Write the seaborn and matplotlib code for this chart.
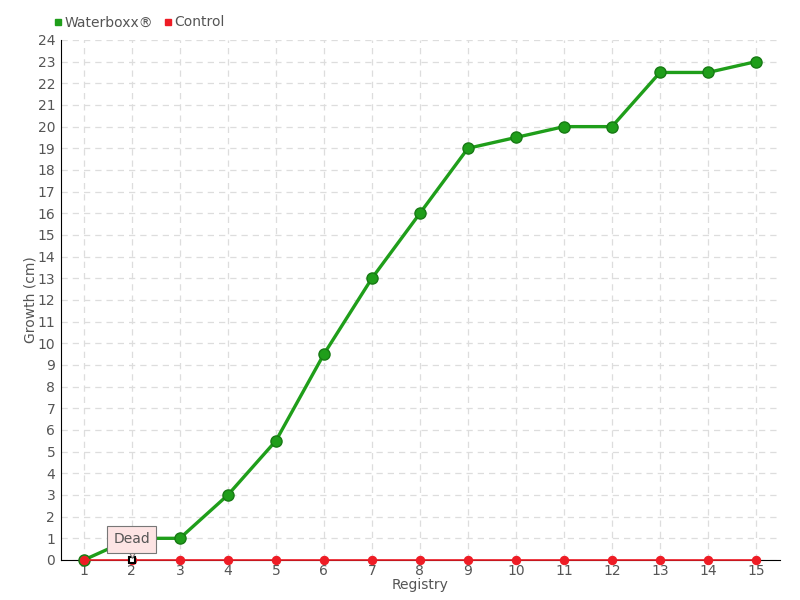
import matplotlib.pyplot as plt
import matplotlib.lines as mlines
import matplotlib.transforms as transforms
import seaborn as sns
import pandas as pd

registry = list(range(1, 16))
waterboxx = [0, 1, 1, 3, 5.5, 9.5, 13, 16, 19, 19.5, 20, 20, 22.5, 22.5, 23]
control = [0] * 15
dead_at = 2

green = "#1f9e1a"
red = "#ee1c25"
text_col = "#555555"

df = pd.DataFrame({"Registry": registry, "Waterboxx®": waterboxx, "Control": control})

sns.set_style("white")
plt.rcParams["font.family"] = ["DejaVu Sans"]

fig = plt.figure(figsize=(8, 6), dpi=100)
ax = fig.add_axes([0.076, 0.0667, 0.899, 0.8667])

sns.lineplot(data=df, x="Registry", y="Waterboxx®", color=green, linewidth=2.4,
             marker="o", markersize=8, markerfacecolor=green,
             markeredgecolor="#177a14", markeredgewidth=1, ax=ax, zorder=4, clip_on=False)
sns.lineplot(data=df, x="Registry", y="Control", color=red, linewidth=1.2,
             marker="o", markersize=6, markerfacecolor=red,
             markeredgecolor=red, ax=ax, zorder=5, clip_on=False)

# dead marker + callout
ax.plot([dead_at], [0], marker="s", markersize=5, markerfacecolor="white",
        markeredgecolor="black", markeredgewidth=1.5, zorder=6, clip_on=False)
pointer = transforms.offset_copy(ax.transData, fig=fig, y=8, units="dots")
ax.plot([dead_at], [0], marker="v", markersize=9, markerfacecolor="#fde4e4",
        markeredgecolor="#777777", markeredgewidth=0.8, zorder=7, clip_on=False,
        transform=pointer)
ax.annotate("Dead", xy=(dead_at, 0.95), ha="center", va="center",
            fontsize=10, color=text_col, zorder=8,
            bbox=dict(boxstyle="square,pad=0.45", facecolor="#fde4e4", edgecolor="#777777", linewidth=0.8))

ax.set_xlim(0.52, 15.5)
ax.set_ylim(0, 24)
ax.set_xticks(registry)
ax.set_yticks(range(0, 25))
ax.grid(True, color="#dddddd", linestyle=(0, (5, 4)), linewidth=0.9)
ax.set_axisbelow(True)
for s in ["top", "right"]:
    ax.spines[s].set_visible(False)
ax.spines["left"].set_color("black")
ax.spines["bottom"].set_color("black")
ax.tick_params(axis="both", colors=text_col, labelsize=10, length=4, direction="inout", width=1)
ax.tick_params(axis="x", pad=1)
ax.tick_params(axis="y", pad=2)
for t in ax.get_xticklines() + ax.get_yticklines():
    t.set_color("black")
ax.set_xlabel("Registry", color=text_col, fontsize=10, labelpad=0)
ax.set_ylabel("Growth (cm)", color=text_col, fontsize=10, labelpad=0)

handles = [
    mlines.Line2D([], [], color=green, marker="s", linestyle="none", markersize=5, label="Waterboxx®"),
    mlines.Line2D([], [], color=red, marker="s", linestyle="none", markersize=5, label="Control"),
]
fig.legend(handles=handles, loc="upper left", bbox_to_anchor=(0.05, 0.995), ncol=2,
           frameon=False, fontsize=10, handletextpad=0.1, columnspacing=0.6,
           handlelength=0.8, labelcolor=text_col)

plt.savefig("out.png", format="png")
